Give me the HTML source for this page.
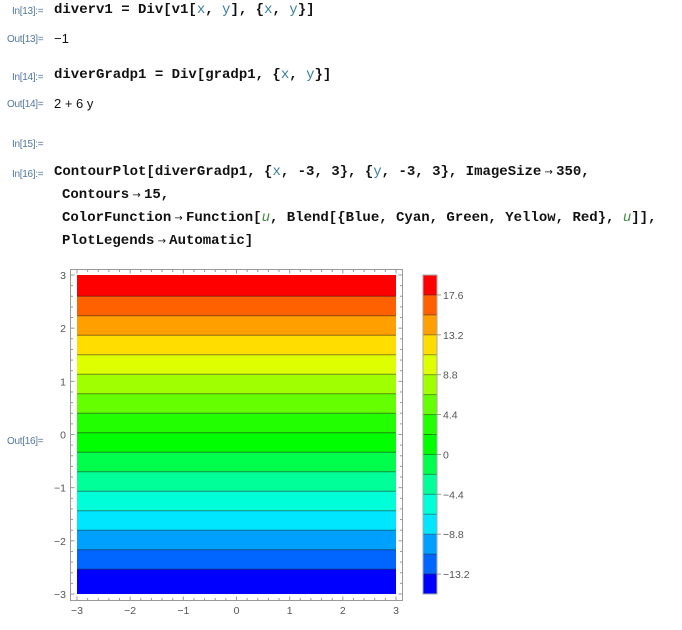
<!DOCTYPE html>
<html><head><meta charset="utf-8">
<style>
body{margin:0;background:#fff;width:682px;height:630px;overflow:hidden;position:relative;font-family:"Liberation Sans",sans-serif}
.lab{position:absolute;font-family:"Liberation Sans",sans-serif;font-size:10px;color:#52779e;letter-spacing:-0.3px}
.code{position:absolute;font-family:"Liberation Mono",monospace;font-size:14px;font-weight:bold;color:#111;white-space:pre}
.out{position:absolute;font-family:"Liberation Sans",sans-serif;font-size:13px;color:#111;white-space:pre}
.v{color:#3a7f9a;font-weight:normal}
.u{color:#3d8a3d;font-style:italic;font-weight:normal}
.ar{font-family:"DejaVu Sans",sans-serif;font-size:10px;font-weight:normal}
svg{position:absolute;left:0;top:0}
svg text{font-family:"Liberation Sans",sans-serif;font-size:10.5px;fill:#555}
</style></head><body>
<div class="lab" style="left:12px;top:6px">In[13]:=</div>
<div class="code" style="left:54px;top:2px">diverv1 = Div[v1[<span class="v">x</span>, <span class="v">y</span>], {<span class="v">x</span>, <span class="v">y</span>}]</div>
<div class="lab" style="left:7px;top:34px">Out[13]=</div>
<div class="out" style="left:54px;top:31px">−1</div>
<div class="lab" style="left:12px;top:72px">In[14]:=</div>
<div class="code" style="left:54px;top:67px">diverGradp1 = Div[gradp1, {<span class="v">x</span>, <span class="v">y</span>}]</div>
<div class="lab" style="left:7px;top:99px">Out[14]=</div>
<div class="out" style="left:54px;top:96px">2 + 6 y</div>
<div class="lab" style="left:12px;top:139px">In[15]:=</div>
<div class="lab" style="left:12px;top:169px">In[16]:=</div>
<div class="code" style="left:54px;top:164px">ContourPlot[diverGradp1, {<span class="v">x</span>, -3, 3}, {<span class="v">y</span>, -3, 3}, ImageSize<span class="ar"> → </span>350,</div>
<div class="code" style="left:62px;top:187px">Contours<span class="ar"> → </span>15,</div>
<div class="code" style="left:62px;top:210px">ColorFunction<span class="ar"> → </span>Function[<span class="u">u</span>, Blend[{Blue, Cyan, Green, Yellow, Red}, <span class="u">u</span>]],</div>
<div class="code" style="left:62px;top:233px">PlotLegends<span class="ar"> → </span>Automatic]</div>
<div class="lab" style="left:7px;top:436px">Out[16]=</div>
<svg id="chart" width="682" height="630"></svg>
<script>
const levels=[-13.2,-11,-8.8,-6.6,-4.4,-2.2,0,2.2,4.4,6.6,8.8,11,13.2,15.4,17.6];
const fMin=-16, fMax=20;
const xTicks=[-3,-2,-1,0,1,2,3];
const yTicks=[-3,-2,-1,0,1,2,3];
const legendTicks=[17.6,13.2,8.8,4.4,0,-4.4,-8.8,-13.2];
const legendLabels=["17.6","13.2","8.8","4.4","0","−4.4","−8.8","−13.2"];
const bandColors=["#0000ff","#0066ff","#00a0ff","#00e6ff","#00ffd8","#00ff99","#00ff4d","#00ff00","#22ff00","#66ff00","#a0ff00","#ddff00","#ffdd00","#ffa000","#ff6000","#ff0000"];
const NS="http://www.w3.org/2000/svg";
const svg=document.getElementById('chart');
const X0=77,X1=396,Y0=594,Y1=275;
const sx=v=>X0+(v+3)/6*(X1-X0);
const sy=v=>Y0-(v+3)/6*(Y0-Y1);
const yOfF=f=>(f-2)/6;
function mk(t,a){const e=document.createElementNS(NS,t);for(const k in a)e.setAttribute(k,a[k]);svg.appendChild(e);return e;}
const bounds=[fMin].concat(levels,[fMax]);
for(let i=0;i<bounds.length-1;i++){
  const ya=sy(yOfF(bounds[i])),yb=sy(yOfF(bounds[i+1]));
  const r=mk('rect',{x:X0,y:yb,width:X1-X0,height:ya-yb,fill:bandColors[i]});
  
  
}
levels.forEach(l=>{
  const y=sy(yOfF(l));
  const ln=mk('line',{x1:X0,x2:X1,y1:y,y2:y,stroke:'#000','stroke-opacity':0.45,'stroke-width':1});
  
  
});
const fr=mk('rect',{x:70.5,y:269.5,width:332,height:331,fill:'none',stroke:'#999','stroke-width':1});


for(let k=-30;k<=30;k+=2){
  const v=k/10, major=(k%10===0), L=major?4:2.5;
  const x=sx(v), y=sy(v);
  mk('line',{x1:x,x2:x,y1:600.5,y2:600.5-L,stroke:'#999'});
  mk('line',{x1:x,x2:x,y1:269.5,y2:269.5+L,stroke:'#999'});
  mk('line',{x1:70.5,x2:70.5+L,y1:y,y2:y,stroke:'#999'});
  mk('line',{x1:402.5,x2:402.5-L,y1:y,y2:y,stroke:'#999'});
}
xTicks.forEach(v=>{const t=mk('text',{x:sx(v),y:614,'text-anchor':'middle'});t.textContent=v<0?'−'+(-v):v;
  });
yTicks.forEach(v=>{const t=mk('text',{x:66,y:sy(v)+4,'text-anchor':'end'});t.textContent=v<0?'−'+(-v):v;
  });
const LX=423,LW=14,LT=275,LB=594;
const n=bandColors.length, bh=(LB-LT)/n;
const lf=f=>LB-(f-(levels[0]-2.2))/(2.2*n)*(LB-LT);
for(let i=0;i<n;i++){
  const r=mk('rect',{x:LX,y:LB-(i+1)*bh,width:LW,height:bh,fill:bandColors[i]});
  
  
}
levels.forEach(l=>{const y=lf(l);mk('line',{x1:LX,x2:LX+LW,y1:y,y2:y,stroke:'#000','stroke-opacity':0.4});});
const lb=mk('rect',{x:LX,y:LT,width:LW,height:LB-LT,fill:'none',stroke:'#aaa'});


legendTicks.forEach((v,i)=>{const y=lf(v);
  mk('line',{x1:LX+LW,x2:LX+LW+4,y1:y,y2:y,stroke:'#999'});
  const t=mk('text',{x:LX+LW+6,y:y+4});t.textContent=legendLabels[i];
  });
</script>
</body></html>
